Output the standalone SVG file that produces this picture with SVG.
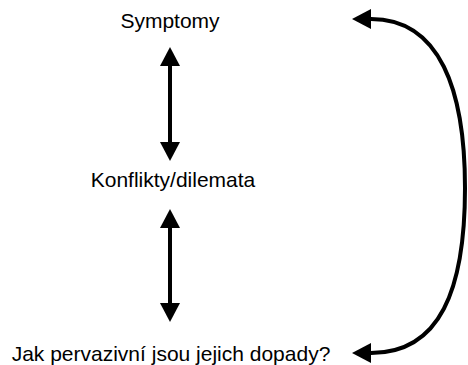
<svg xmlns="http://www.w3.org/2000/svg" width="468" height="365" viewBox="0 0 468 365">
<defs>
<style>
.lbl{font-family:"Liberation Sans",Arial,sans-serif;font-size:21px;fill:#000;text-anchor:middle}
.conn{fill:none;stroke:#000;stroke-width:4}
</style>
<marker id="ah" viewBox="0 0 19 20" refX="0" refY="10" markerWidth="19" markerHeight="20" markerUnits="userSpaceOnUse" orient="auto-start-reverse">
<path d="M0,0 L19,10 L0,20 z" fill="#000"/>
</marker>
</defs>
<rect width="468" height="365" fill="#fff"/>
<g id="connectors">
<line class="conn" x1="170" y1="66" x2="170" y2="142" marker-start="url(#ah)" marker-end="url(#ah)"/>
<line class="conn" x1="170" y1="228" x2="170" y2="303" marker-start="url(#ah)" marker-end="url(#ah)"/>
<path class="conn" d="M371,19 C440,19 465,90 465,188 C465,290 440,353 371,353" marker-start="url(#ah)" marker-end="url(#ah)"/>
</g>
<g id="node-symptomy"><text class="lbl" x="170" y="28">Symptomy</text></g>
<g id="node-konflikty"><text class="lbl" x="173" y="187">Konflikty/dilemata</text></g>
<g id="node-dopady"><text class="lbl" x="171" y="361">Jak pervazivní jsou jejich dopady?</text></g>
</svg>
